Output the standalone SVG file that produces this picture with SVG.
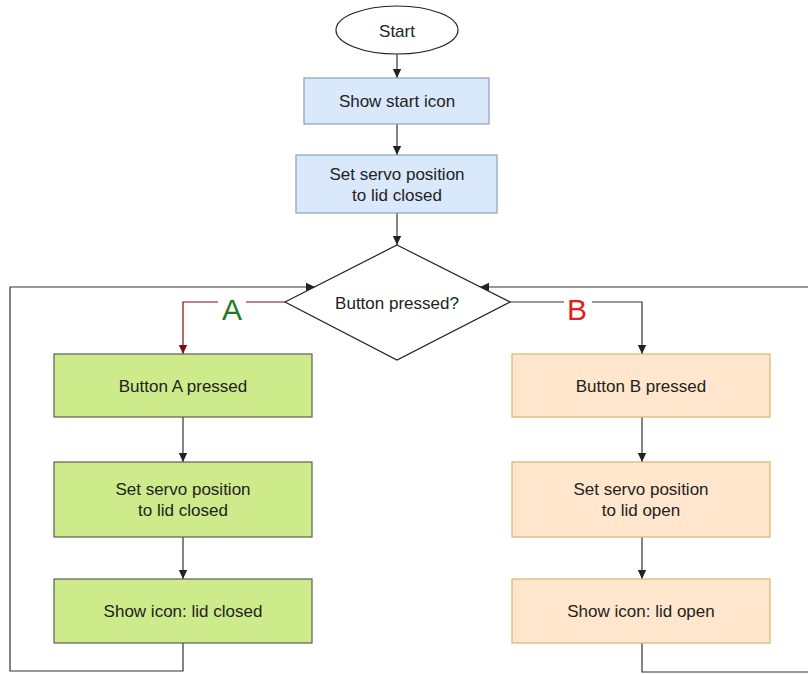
<svg xmlns="http://www.w3.org/2000/svg" width="808" height="674" viewBox="0 0 808 674">
<defs>
<style>
.t{font-family:"Liberation Sans",Arial,sans-serif;font-size:17px;fill:#222;text-anchor:middle;dominant-baseline:central}
.blue{fill:#dae8fc;stroke:#8a9fbf;stroke-width:1.2}
.green{fill:#cdeb8b;stroke:#5a5f55;stroke-width:1.2}
.orange{fill:#ffe6cc;stroke:#d9b36a;stroke-width:1.2}
.c{fill:none;stroke:#333;stroke-width:1.2}
.lbl{font-family:"Liberation Sans",Arial,sans-serif;font-size:30px;text-anchor:middle;dominant-baseline:central}
</style>
<marker id="ah" markerWidth="10" markerHeight="10" refX="9" refY="5" orient="auto" markerUnits="userSpaceOnUse"><path d="M0,0.8 L9,5 L0,9.2 Z" fill="#222"/></marker>
<marker id="ahr" markerWidth="10" markerHeight="10" refX="9" refY="5" orient="auto" markerUnits="userSpaceOnUse"><path d="M0,0.8 L9,5 L0,9.2 Z" fill="#7a1010"/></marker>
</defs>
<rect width="808" height="674" fill="#fff"/>
<g id="connectors">
<path class="c" d="M397,54 V78" marker-end="url(#ah)"/>
<path class="c" d="M397,124 V155" marker-end="url(#ah)"/>
<path class="c" d="M397,213 V245" marker-end="url(#ah)"/>
<path d="M285,302 H183 V354" fill="none" stroke="#7a1010" stroke-width="1.2" marker-end="url(#ahr)"/>
<path class="c" d="M510,302 H642 V354" marker-end="url(#ah)"/>
<path class="c" d="M183,417 V462" marker-end="url(#ah)"/>
<path class="c" d="M183,537 V579" marker-end="url(#ah)"/>
<path class="c" d="M642,417 V462" marker-end="url(#ah)"/>
<path class="c" d="M642,537 V579" marker-end="url(#ah)"/>
<path class="c" d="M183,643 V671 H10 V287 H315" marker-end="url(#ah)"/>
<path class="c" d="M642,643 V672 H810"/>
<path class="c" d="M810,287 H480" marker-end="url(#ah)"/>
<rect x="218" y="296" width="28" height="20" fill="#fff"/>
<text class="lbl" x="232" y="309" fill="#1f7a1f">A</text>
<rect x="564" y="296" width="28" height="20" fill="#fff"/>
<text class="lbl" x="577" y="309" fill="#e01f1f">B</text>
</g>
<g id="start">
<ellipse cx="397" cy="30" rx="61" ry="24" fill="#fff" stroke="#222" stroke-width="1.2"/>
<text class="t" x="397" y="31">Start</text>
</g>
<g id="show-start-icon">
<rect class="blue" x="304" y="78" width="185" height="46"/>
<text class="t" x="397" y="101">Show start icon</text>
</g>
<g id="set-servo-closed">
<rect class="blue" x="296" y="155" width="201" height="58"/>
<text class="t" x="397" y="174">Set servo position</text>
<text class="t" x="397" y="195">to lid closed</text>
</g>
<g id="button-pressed">
<polygon points="397,245 510,302 397,360 285,302" fill="#fff" stroke="#222" stroke-width="1.2"/>
<text class="t" x="397" y="303">Button pressed?</text>
</g>
<g id="button-a">
<rect class="green" x="54" y="354" width="258" height="63"/>
<text class="t" x="183" y="386">Button A pressed</text>
</g>
<g id="servo-a">
<rect class="green" x="54" y="462" width="258" height="75"/>
<text class="t" x="183" y="489">Set servo position</text>
<text class="t" x="183" y="510">to lid closed</text>
</g>
<g id="icon-a">
<rect class="green" x="54" y="579" width="258" height="64"/>
<text class="t" x="183" y="611">Show icon: lid closed</text>
</g>
<g id="button-b">
<rect class="orange" x="512" y="354" width="258" height="63"/>
<text class="t" x="641" y="386">Button B pressed</text>
</g>
<g id="servo-b">
<rect class="orange" x="512" y="462" width="258" height="75"/>
<text class="t" x="641" y="489">Set servo position</text>
<text class="t" x="641" y="510">to lid open</text>
</g>
<g id="icon-b">
<rect class="orange" x="512" y="579" width="258" height="64"/>
<text class="t" x="641" y="611">Show icon: lid open</text>
</g>
</svg>
